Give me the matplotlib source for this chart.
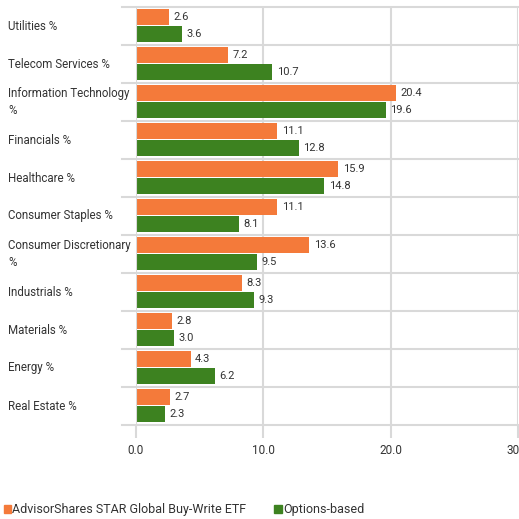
import matplotlib
matplotlib.use("Agg")
import matplotlib.pyplot as plt
import matplotlib.transforms as mtransforms
from matplotlib.patches import Patch
import numpy as np

#____________________________________________________________________________________________________
# data
categories = ["Utilities %", "Telecom Services %", "Information Technology\n%", "Financials %",
              "Healthcare %", "Consumer Staples %", "Consumer Discretionary\n%", "Industrials %",
              "Materials %", "Energy %", "Real Estate %"]
etf_values = [2.6, 7.2, 20.4, 11.1, 15.9, 11.1, 13.6, 8.3, 2.8, 4.3, 2.7]
options_values = [3.6, 10.7, 19.6, 12.8, 14.8, 8.1, 9.5, 9.3, 3.0, 6.2, 2.3]
x_ticks = [0, 10, 20, 30]
series_names = ["AdvisorShares STAR Global Buy-Write ETF", "Options-based"]

#____________________________________________________________________________________________________
# style
plt.rcParams['font.family'] = ['Liberation Sans Narrow', 'Roboto', 'DejaVu Sans']
orange = "#F47A3A"
green = "#3D8220"
grid_col = "#D9D9D9"
text_col = "#333333"

W, H = 519, 519
fig = plt.figure(figsize=(W / 100, H / 100), dpi=100)
left, right, top, bottom = 136, 518, 7, 425
ax = fig.add_axes([left / W, 1 - bottom / H, (right - left) / W, (bottom - top) / H])

y = np.arange(len(categories))
bar_h = 0.42
ax.barh(y - 0.24, etf_values, height=bar_h, color=orange, zorder=3)
ax.barh(y + 0.21, options_values, height=bar_h, color=green, zorder=3)

for i in range(len(categories)):
    ax.text(etf_values[i] + 0.35, y[i] - 0.24, "%.1f" % etf_values[i], va="center", ha="left",
            fontsize=8, color=text_col)
    ax.text(options_values[i] + 0.35, y[i] + 0.21, "%.1f" % options_values[i], va="center", ha="left",
            fontsize=8, color=text_col)

ax.set_ylim(len(categories) - 0.5, -0.5)
ax.set_xlim(0, 30)

# category separators, sticking out a bit left of the axis
ext = -14 / (right - left)
for b in np.arange(-0.5, len(categories), 1.0):
    ax.plot([ext, 1], [b, b], transform=ax.get_yaxis_transform(), color=grid_col, lw=1.5,
            clip_on=False, zorder=1)

# vertical grid
for t in x_ticks[1:]:
    ax.axvline(t, color=grid_col, lw=1.5, zorder=1)
ax.axvline(0, color=grid_col, lw=1.5, zorder=4)

for s in ax.spines.values():
    s.set_visible(False)

ax.set_xticks(x_ticks)
ax.set_xticklabels(["%.1f" % t for t in x_ticks], fontsize=8.5, color=text_col)
ax.tick_params(axis="x", length=9, width=1.5, color=grid_col, pad=5)
ax.set_yticks([])

# category labels at group centers (figure x, data y)
trans = mtransforms.blended_transform_factory(fig.transFigure, ax.transData)
for i, c in enumerate(categories):
    ax.text(8 / W, y[i], c, transform=trans, fontsize=8.3, color=text_col,
            va="center", ha="left", linespacing=1.35)

# legend
handles = [Patch(color=orange), Patch(color=green)]
fig.legend(handles, series_names, loc="center left", bbox_to_anchor=(0.0, 1 - 510 / H),
           ncol=2, frameon=False, fontsize=9, handlelength=0.6, handleheight=0.6,
           handletextpad=0.1, columnspacing=2.2, borderaxespad=0, borderpad=0.3,
           labelcolor=text_col)

fig.savefig("out.png", dpi=100)
